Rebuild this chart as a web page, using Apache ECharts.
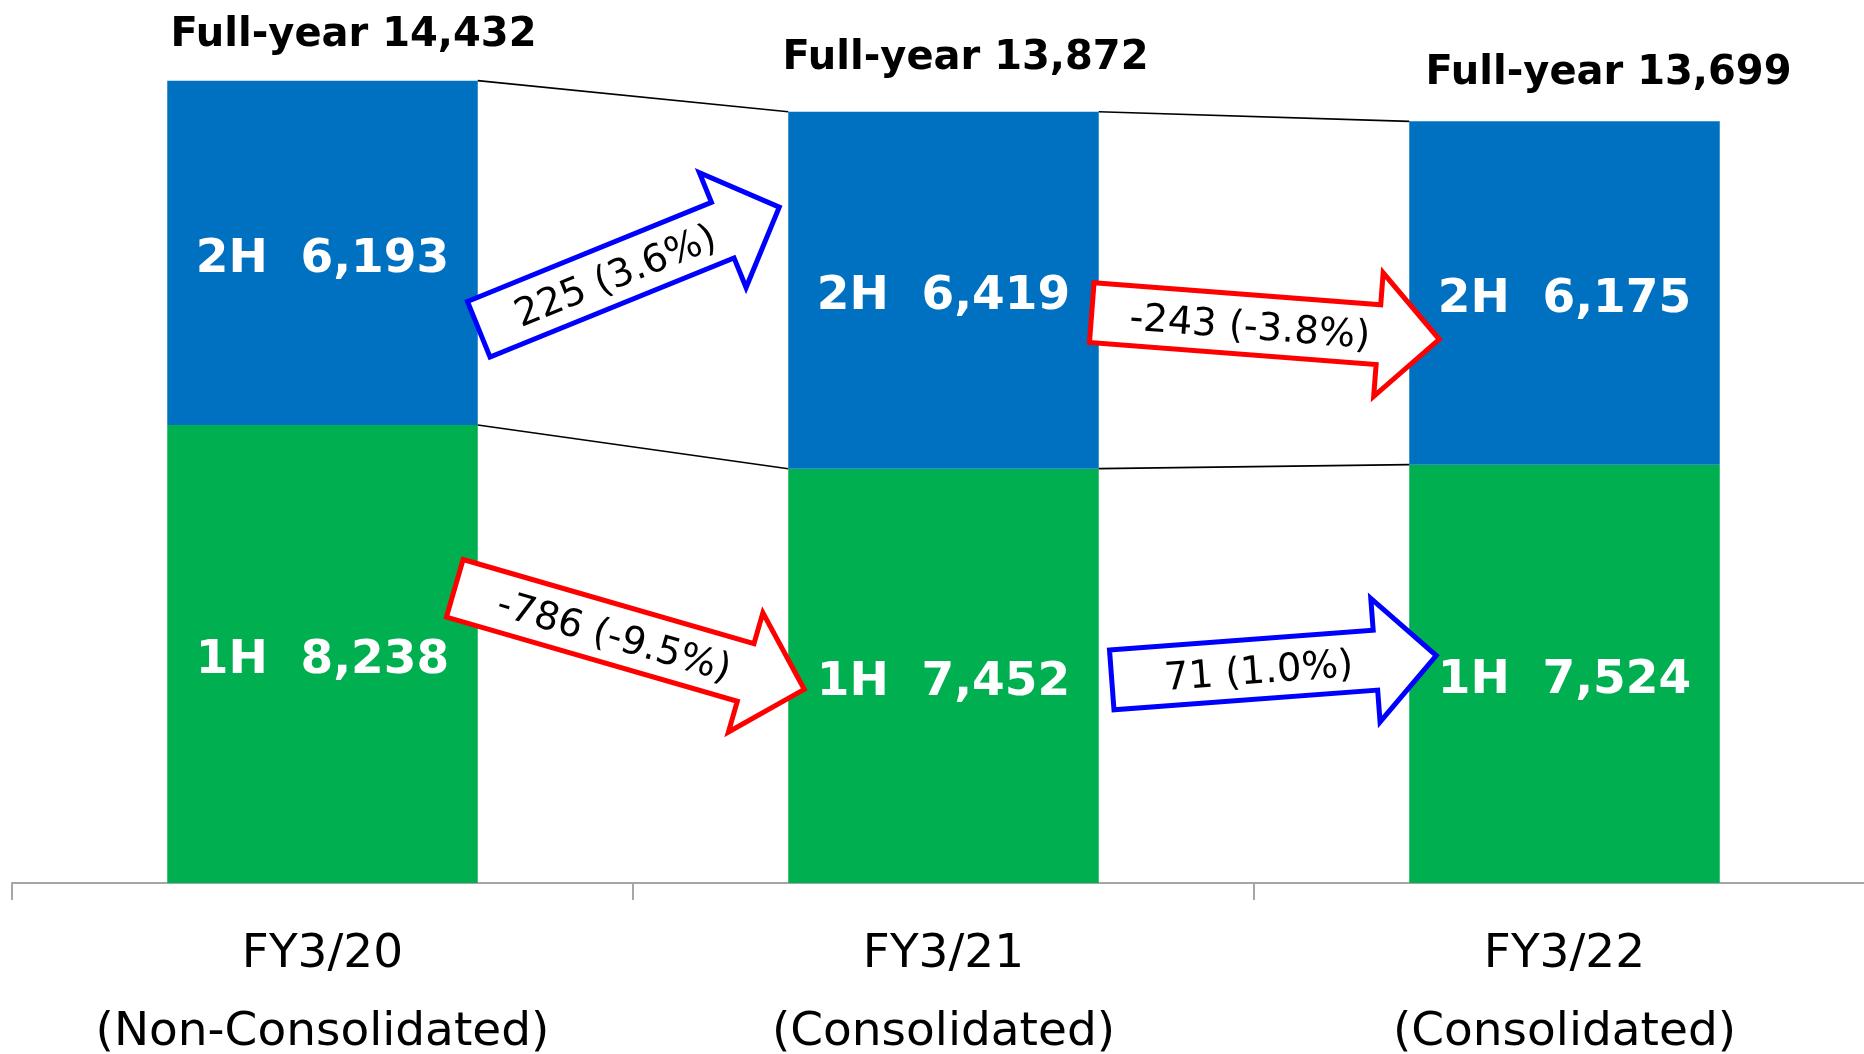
<!DOCTYPE html>
<html><head><meta charset="utf-8">
<script src="https://cdn.jsdelivr.net/npm/echarts@6/dist/echarts.min.js"></script>
<style>html,body{margin:0;padding:0;background:#fff}#c{width:1864px;height:1054px}</style>
</head><body><div id="c"></div>
<script>
// ---- data ----
const categories = ['FY3/20', 'FY3/21', 'FY3/22'];
const categoryNotes = ['(Non-Consolidated)', '(Consolidated)', '(Consolidated)'];
const firstHalf = [8238, 7452, 7524];
const secondHalf = [6193, 6419, 6175];
const fullYear = [14432, 13872, 13699];
const secondHalfChange = ['225 (3.6%)', '-243 (-3.8%)'];
const firstHalfChange = ['-786 (-9.5%)', '71 (1.0%)'];

// ---- layout (annotation placement, not data) ----
const FONT = 'Verdana, "DejaVu Sans", sans-serif';
const totalLabelOffsets = [[31, -45], [22, -53], [44, -48]];
const arrowLayout = [
  { from: 0, label: secondHalfChange[0], tailV: 9959, tipV: 12156, tailDx: 1, tipDx: -9 },
  { from: 1, label: secondHalfChange[1], tailV: 10259, tipV: 9779, tailDx: -7, tipDx: 30 },
  { from: 0, label: firstHalfChange[0], tailV: 5300, tipV: 3483, tailDx: -23, tipDx: 16 },
  { from: 1, label: firstHalfChange[1], tailV: 3652, tipV: 4090, tailDx: 13, tipDx: 27 }
];
const SHAFT_W = 60, HEAD_W = 124, HEAD_L = 61;

const fmt = v => v.toLocaleString('en-US');
const stackTop = firstHalf.map((v, i) => v + secondHalf[i]);

function arrowPoints(tx, ty, hx, hy) {
  const dx = hx - tx, dy = hy - ty, L = Math.hypot(dx, dy);
  const ux = dx / L, uy = dy / L, px = -uy, py = ux;
  const loc = [[0, -SHAFT_W / 2], [L - HEAD_L, -SHAFT_W / 2], [L - HEAD_L, -HEAD_W / 2], [L, 0],
               [L - HEAD_L, HEAD_W / 2], [L - HEAD_L, SHAFT_W / 2], [0, SHAFT_W / 2]];
  return { pts: loc.map(([a, b]) => [tx + a * ux + b * px, ty + a * uy + b * py]), ux, uy, px, py, L };
}

const chart = echarts.init(document.getElementById('c'), null, { renderer: 'canvas' });
chart.setOption({
  animation: false,
  backgroundColor: '#ffffff',
  grid: { left: 12, top: 49, width: 1863, height: 834, containLabel: false, outerBoundsMode: 'none' },
  xAxis: {
    type: 'category',
    data: categories.map((c, i) => c + '\n' + categoryNotes[i]),
    boundaryGap: true,
    axisLine: { lineStyle: { color: '#A6A6A6', width: 2 } },
    axisTick: { show: true, length: 17, lineStyle: { color: '#A6A6A6', width: 2 } },
    axisLabel: { fontSize: 47, color: '#000', fontFamily: FONT, lineHeight: 78, margin: 33, interval: 0 }
  },
  yAxis: { type: 'value', min: 0, max: 15000, show: false, splitLine: { show: false } },
  series: [
    {
      name: '1H', type: 'bar', stack: 'total', data: firstHalf, barWidth: '50%',
      itemStyle: { color: '#00B050' },
      label: { show: true, position: 'inside', offset: [0, 7], color: '#fff', fontSize: 47, fontWeight: 'bold', fontFamily: FONT,
               formatter: p => '1H  ' + fmt(p.value) }
    },
    {
      name: '2H', type: 'bar', stack: 'total', data: secondHalf, barWidth: '50%',
      itemStyle: { color: '#0070C0' },
      label: { show: true, position: 'inside', offset: [0, 7], color: '#fff', fontSize: 47, fontWeight: 'bold', fontFamily: FONT,
               formatter: p => '2H  ' + fmt(p.value) }
    },
    {
      type: 'custom', name: 'connectors', z: 3,
      data: [[0], [1]],
      renderItem: (params, api) => {
        const i = api.value(0);
        const half = api.size([1, 0])[0] * 0.25;
        const children = [];
        [stackTop, firstHalf].forEach(level => {
          const a = api.coord([i, level[i]]), b = api.coord([i + 1, level[i + 1]]);
          children.push({ type: 'line', shape: { x1: a[0] + half, y1: a[1], x2: b[0] - half, y2: b[1] },
                          style: { stroke: '#000', lineWidth: 1.6 } });
        });
        return { type: 'group', children };
      }
    },
    {
      type: 'custom', name: 'arrows', z: 5,
      data: arrowLayout.map((a, k) => [a.from, a.tailV, a.tipV, k]),
      renderItem: (params, api) => {
        const a = arrowLayout[api.value(3)];
        const half = api.size([1, 0])[0] * 0.25;
        const t = api.coord([a.from, a.tailV]), h = api.coord([a.from + 1, a.tipV]);
        const tx = t[0] + half + a.tailDx, hx = h[0] - half + a.tipDx;
        const g = arrowPoints(tx, t[1], hx, h[1]);
        const neg = a.label.trim().startsWith('-');
        const along = (g.L - HEAD_L) / 2 + 15, perp = 4;
        const cx = tx + along * g.ux + perp * g.px;
        const cy = t[1] + along * g.uy + perp * g.py;
        return {
          type: 'group', children: [
            { type: 'polygon', shape: { points: g.pts },
              style: { fill: '#ffffff', stroke: neg ? '#FF0000' : '#0000FF', lineWidth: 5, lineJoin: 'miter' } },
            { type: 'text', x: cx, y: cy, rotation: -Math.atan2(h[1] - t[1], hx - tx),
              style: { text: a.label, x: 0, y: 0, align: 'center', verticalAlign: 'middle',
                       fill: '#000', fontSize: 38.5, fontFamily: FONT } }
          ]
        };
      }
    },
    {
      type: 'custom', name: 'totals', z: 6,
      data: fullYear.map((v, i) => [i, stackTop[i], v]),
      renderItem: (params, api) => {
        const i = api.value(0);
        const p = api.coord([i, api.value(1)]);
        const off = totalLabelOffsets[i];
        return { type: 'text', x: p[0] + off[0], y: p[1] + off[1],
                 style: { text: 'Full-year ' + fmt(api.value(2)), x: 0, y: 0, align: 'center', verticalAlign: 'middle',
                          fill: '#000', fontSize: 40, fontWeight: 'bold', fontFamily: FONT } };
      }
    }
  ]
});
</script>
</body></html>
